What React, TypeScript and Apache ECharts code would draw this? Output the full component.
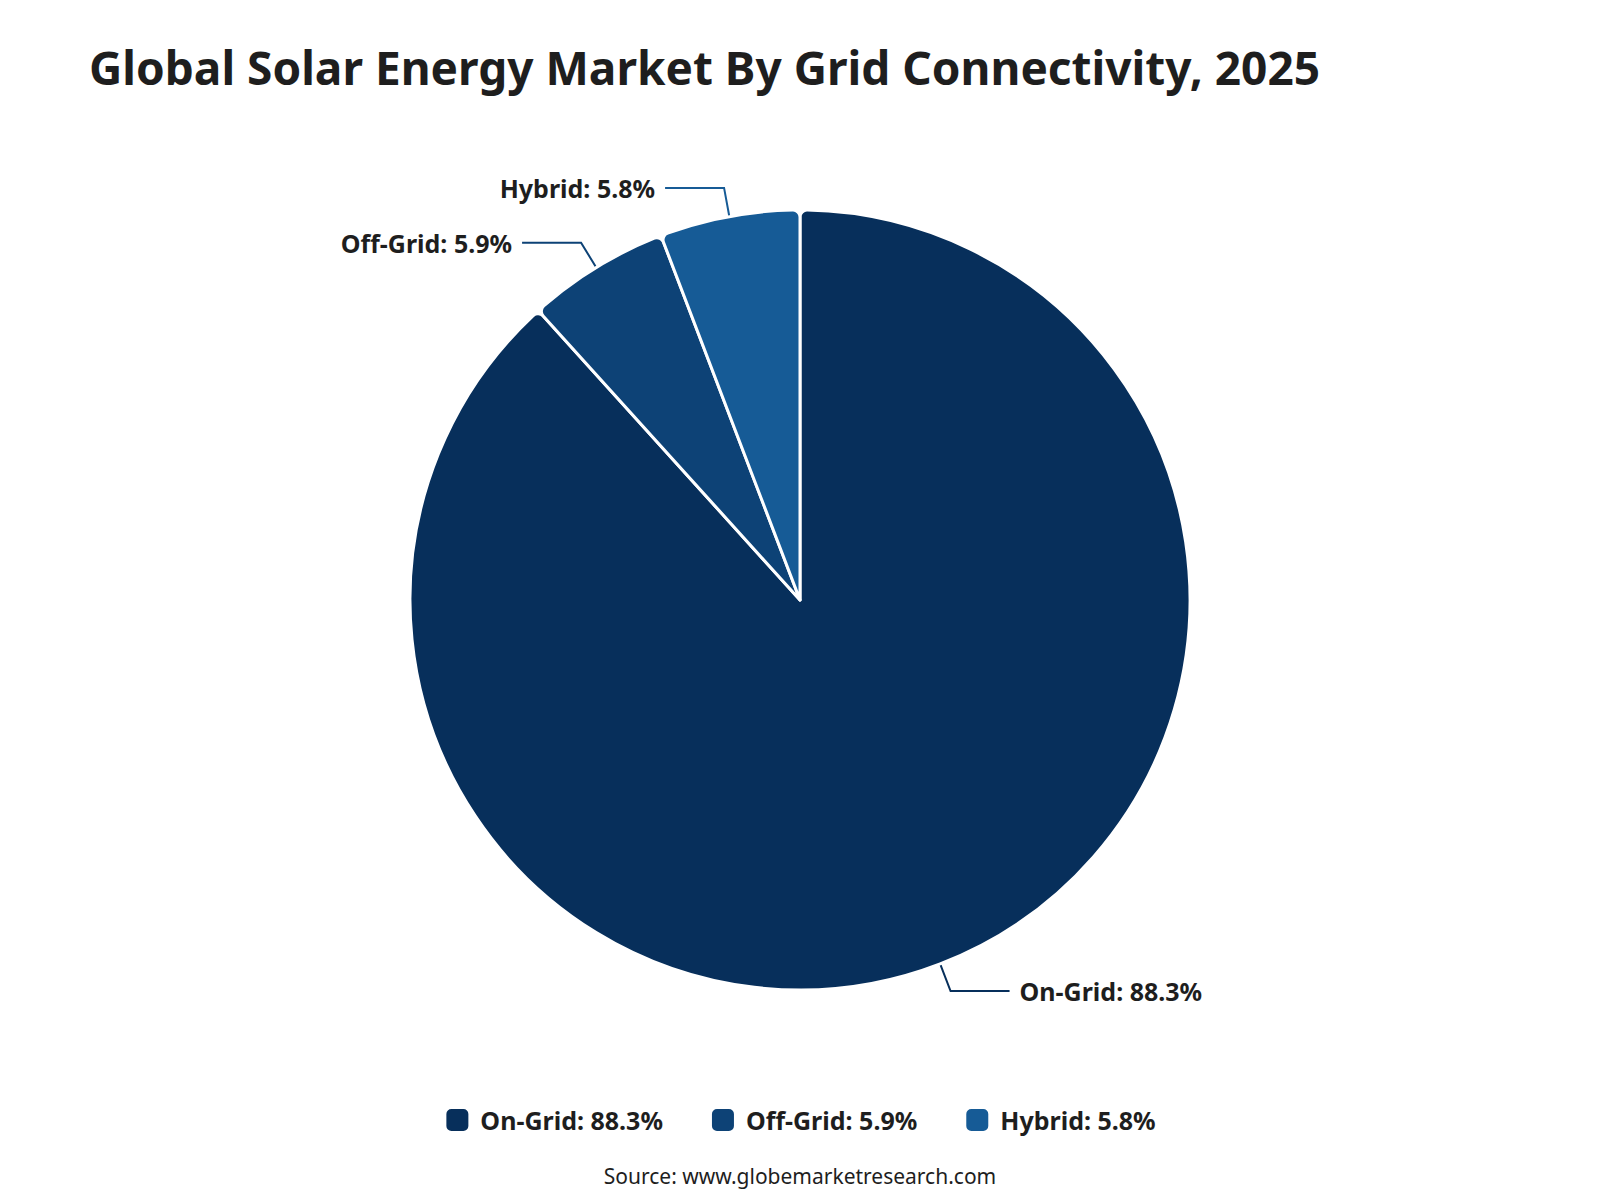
import React, { useEffect, useRef } from "react";
import * as echarts from "echarts";

const categories = ["On-Grid", "Off-Grid", "Hybrid"];
const shares = [88.3, 5.9, 5.8];
const colors = ["#072f5b", "#0d4276", "#165b96"];

const TITLE = "Global Solar Energy Market By Grid Connectivity, 2025";
const SOURCE = "Source: www.globemarketresearch.com";
const FONT = "'Noto Sans', 'Open Sans', sans-serif";

export default function App() {
  const ref = useRef<HTMLDivElement>(null);
  useEffect(() => {
    document.body.style.margin = "0";
    if (!ref.current) return;
    const chart = echarts.init(ref.current, null, { renderer: "svg" });
    const data = categories.map((c, i) => ({
      name: `${c}: ${shares[i]}%`,
      value: shares[i],
      itemStyle: { color: colors[i] },
      labelLine: { lineStyle: { color: colors[i], width: 2 } },
    }));
    chart.setOption({
      animation: false,
      backgroundColor: "#ffffff",
      textStyle: { fontFamily: FONT },
      title: {
        text: TITLE,
        left: 84,
        top: 39,
        textStyle: { fontSize: 46, fontWeight: "bold", color: "#1e1e1e", fontFamily: FONT },
      },
      legend: {
        bottom: 62,
        left: "center",
        itemWidth: 24,
        itemHeight: 24,
        itemGap: 47,
        icon: "roundRect",
        textStyle: { fontSize: 25, fontWeight: "bold", color: "#1e1e1e", padding: [0, 0, 0, 6], fontFamily: FONT },
        data: data.map((d) => d.name),
      },
      graphic: [
        {
          type: "text",
          left: "center",
          top: 1165,
          style: { text: SOURCE, fontSize: 21, fill: "#1e1e1e", fontFamily: FONT },
        },
      ],
      series: [
        {
          type: "pie",
          center: [800, 600],
          radius: [0, 390],
          startAngle: 90,
          clockwise: true,
          itemStyle: { borderColor: "#ffffff", borderWidth: 3, borderRadius: 7 },
          label: {
            show: true,
            formatter: "{b}",
            fontSize: 25,
            fontWeight: "bold",
            color: "#1e1e1e",
            fontFamily: FONT,
            distanceToLabelLine: 10,
          },
          labelLine: { show: true, length: 29, length2: 59 },
          data,
        },
      ],
    });
    return () => chart.dispose();
  }, []);
  return <div ref={ref} style={{ width: 1600, height: 1200 }} />;
}
